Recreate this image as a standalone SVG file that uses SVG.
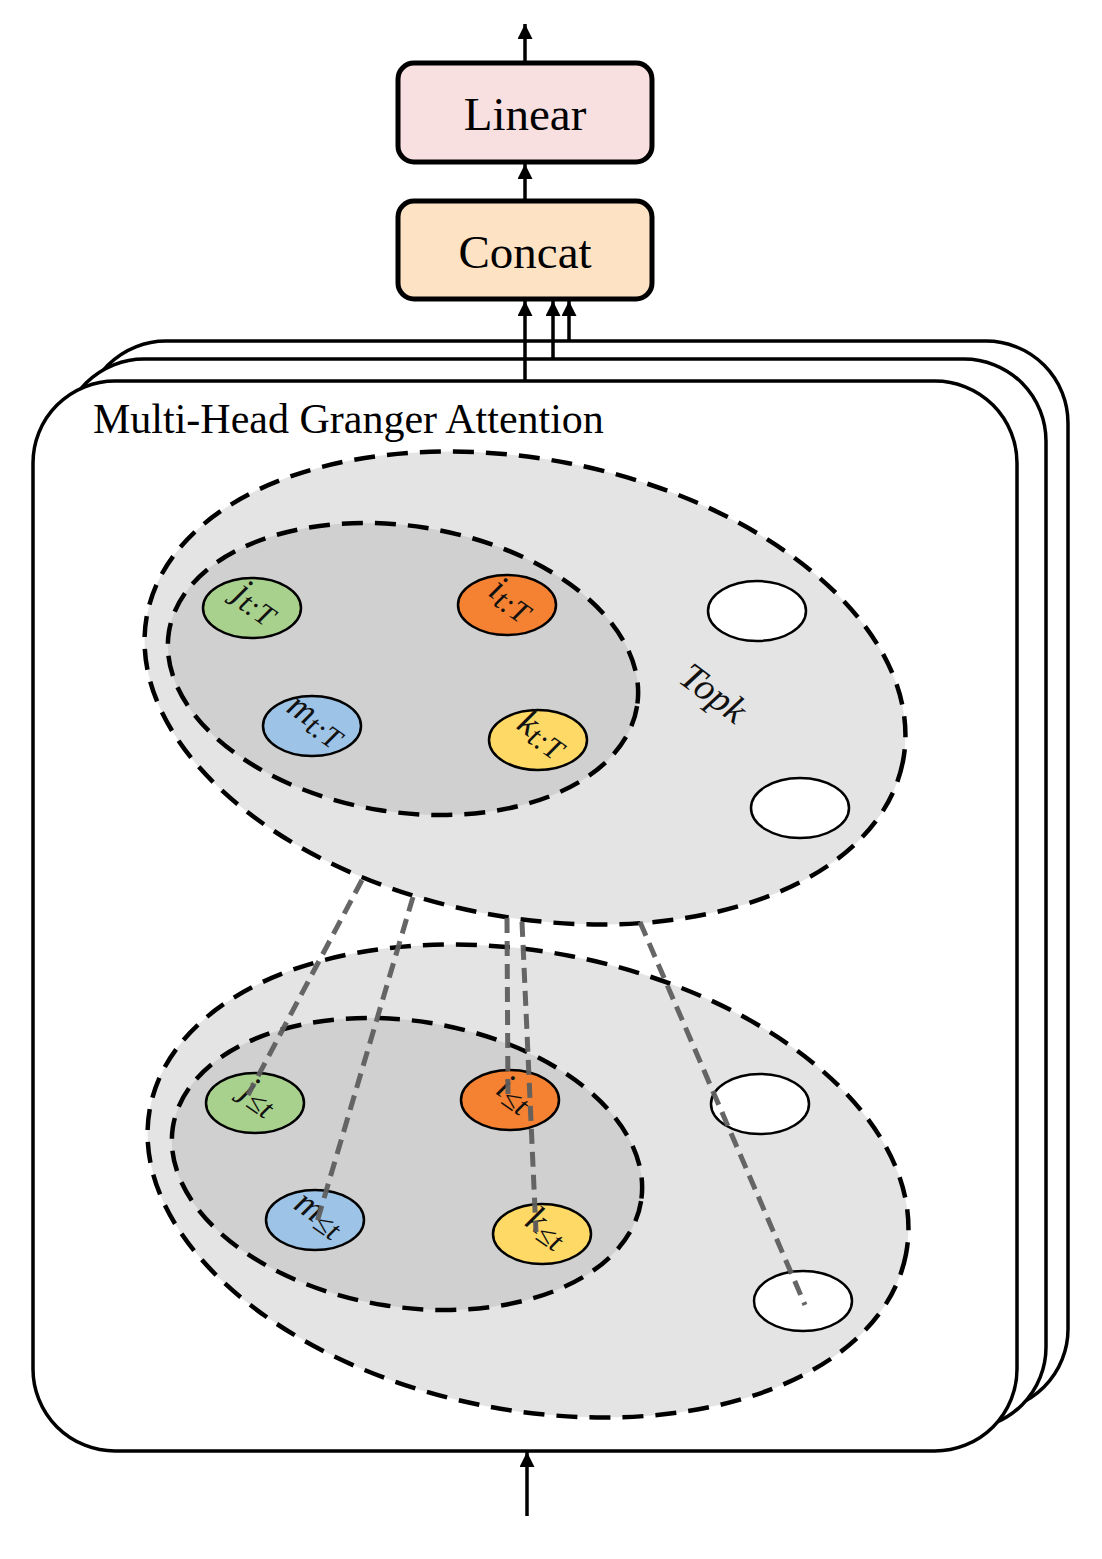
<svg xmlns="http://www.w3.org/2000/svg" width="1102" height="1559" viewBox="0 0 1102 1559">
<style>
.frame{fill:#fff;stroke:#000;stroke-width:3.5}
.box{stroke:#000;stroke-width:5}
.big{font-family:"Liberation Serif",serif;font-size:47px;fill:#000}
.title{font-family:"Liberation Serif",serif;font-size:42px;fill:#000}
.wire{stroke:#000;stroke-width:3.5;fill:none}
.outer{fill:#e4e4e4;stroke:#000;stroke-width:4.5;stroke-dasharray:21 12}
.inner{fill:#d0d0d0;stroke:#000;stroke-width:4.5;stroke-dasharray:21 12}
.node{stroke:#000;stroke-width:2.5}
.lbl{font-family:"Liberation Serif",serif;font-style:italic;font-size:37px;fill:#111}
.sub{font-size:30px}
.link{stroke:#5e5e5e;stroke-width:5;stroke-dasharray:15 8;fill:none;opacity:0.95}
</style>
<defs>
<marker id="ah" markerWidth="15" markerHeight="15" refX="15" refY="7.5" orient="auto" markerUnits="userSpaceOnUse">
<path d="M0,0 L15,7.5 L0,15 z" fill="#000"/>
</marker>
</defs>

<g id="frames">
<rect class="frame" x="84" y="341" width="984" height="1070" rx="82"/>
<rect class="frame" x="62" y="359" width="984" height="1070" rx="82"/>
<rect class="frame" x="33" y="381" width="984" height="1070" rx="82"/>
<text class="title" x="93" y="433">Multi-Head Granger Attention</text>
</g>

<g id="linear">
<rect class="box" x="398" y="63" width="254" height="99" rx="16" fill="#f9e0e0"/>
<text class="big" x="525" y="130" text-anchor="middle">Linear</text>
</g>
<g id="concat">
<rect class="box" x="398" y="201" width="254" height="98" rx="16" fill="#fde3c4"/>
<text class="big" x="525" y="268" text-anchor="middle">Concat</text>
</g>

<g id="top-cluster">
<ellipse class="outer" cx="0" cy="0" rx="385" ry="229" transform="translate(525,688) rotate(11)"/>
<ellipse class="inner" cx="0" cy="0" rx="237" ry="143" transform="translate(403,669) rotate(9)"/>
<text class="lbl" transform="translate(706,703) rotate(37)" text-anchor="middle" style="font-size:38px">Topk</text>
</g>
<g id="bottom-cluster">
<ellipse class="outer" cx="0" cy="0" rx="385" ry="229" transform="translate(528,1181) rotate(11)"/>
<ellipse class="inner" cx="0" cy="0" rx="237" ry="143" transform="translate(407,1164) rotate(9)"/>
</g>

<g id="node-j-top">
<ellipse class="node" cx="252" cy="608" rx="49" ry="30" fill="#a9d18e"/>
<text class="lbl" transform="translate(252,608) rotate(35)" text-anchor="middle" y="3">j<tspan class="sub" dy="5">t:T</tspan></text>
</g>
<g id="node-i-top">
<ellipse class="node" cx="507" cy="605" rx="49" ry="30" fill="#f58232"/>
<text class="lbl" transform="translate(507,605) rotate(35)" text-anchor="middle" y="3">i<tspan class="sub" dy="5">t:T</tspan></text>
</g>
<g id="node-m-top">
<ellipse class="node" cx="312" cy="726" rx="49" ry="30" fill="#9dc3e6"/>
<text class="lbl" transform="translate(312,726) rotate(35)" text-anchor="middle" y="3">m<tspan class="sub" dy="5">t:T</tspan></text>
</g>
<g id="node-k-top">
<ellipse class="node" cx="538" cy="740" rx="49" ry="30" fill="#ffd966"/>
<text class="lbl" transform="translate(538,740) rotate(35)" text-anchor="middle" y="3">k<tspan class="sub" dy="5">t:T</tspan></text>
</g>
<g id="node-w1-top"><ellipse class="node" cx="757" cy="611" rx="49" ry="30" fill="#fff"/></g>
<g id="node-w2-top"><ellipse class="node" cx="800" cy="808" rx="49" ry="30" fill="#fff"/></g>

<g id="node-j-bot">
<ellipse class="node" cx="255" cy="1103" rx="49" ry="30" fill="#a9d18e"/>
<text class="lbl" transform="translate(255,1103) rotate(35)" text-anchor="middle" y="3">j<tspan class="sub" dy="5">≤t</tspan></text>
</g>
<g id="node-i-bot">
<ellipse class="node" cx="510" cy="1100" rx="49" ry="30" fill="#f58232"/>
<text class="lbl" transform="translate(510,1100) rotate(35)" text-anchor="middle" y="3">i<tspan class="sub" dy="5">≤t</tspan></text>
</g>
<g id="node-m-bot">
<ellipse class="node" cx="315" cy="1220" rx="49" ry="30" fill="#9dc3e6"/>
<text class="lbl" transform="translate(315,1220) rotate(35)" text-anchor="middle" y="3">m<tspan class="sub" dy="5">≤t</tspan></text>
</g>
<g id="node-k-bot">
<ellipse class="node" cx="542" cy="1234" rx="49" ry="30" fill="#ffd966"/>
<text class="lbl" transform="translate(542,1234) rotate(35)" text-anchor="middle" y="3">k<tspan class="sub" dy="5">≤t</tspan></text>
</g>
<g id="node-w1-bot"><ellipse class="node" cx="760" cy="1104" rx="49" ry="30" fill="#fff"/></g>
<g id="node-w2-bot"><ellipse class="node" cx="803" cy="1301" rx="49" ry="30" fill="#fff"/></g>

<g id="connectors">
<line class="link" x1="362" y1="880" x2="248" y2="1095"/>
<line class="link" x1="413" y1="897" x2="317" y2="1222"/>
<line class="link" x1="507" y1="918" x2="508" y2="1100"/>
<line class="link" x1="522" y1="922" x2="536" y2="1232"/>
<line class="link" x1="640" y1="922" x2="805" y2="1305"/>
<line class="wire" x1="525" y1="381" x2="525" y2="301" marker-end="url(#ah)"/>
<line class="wire" x1="553" y1="359" x2="553" y2="301" marker-end="url(#ah)"/>
<line class="wire" x1="569" y1="341" x2="569" y2="301" marker-end="url(#ah)"/>
<line class="wire" x1="525" y1="199" x2="525" y2="164" marker-end="url(#ah)"/>
<line class="wire" x1="525" y1="61" x2="525" y2="24" marker-end="url(#ah)"/>
<line class="wire" x1="527" y1="1516" x2="527" y2="1452" marker-end="url(#ah)"/>
</g>
</svg>
